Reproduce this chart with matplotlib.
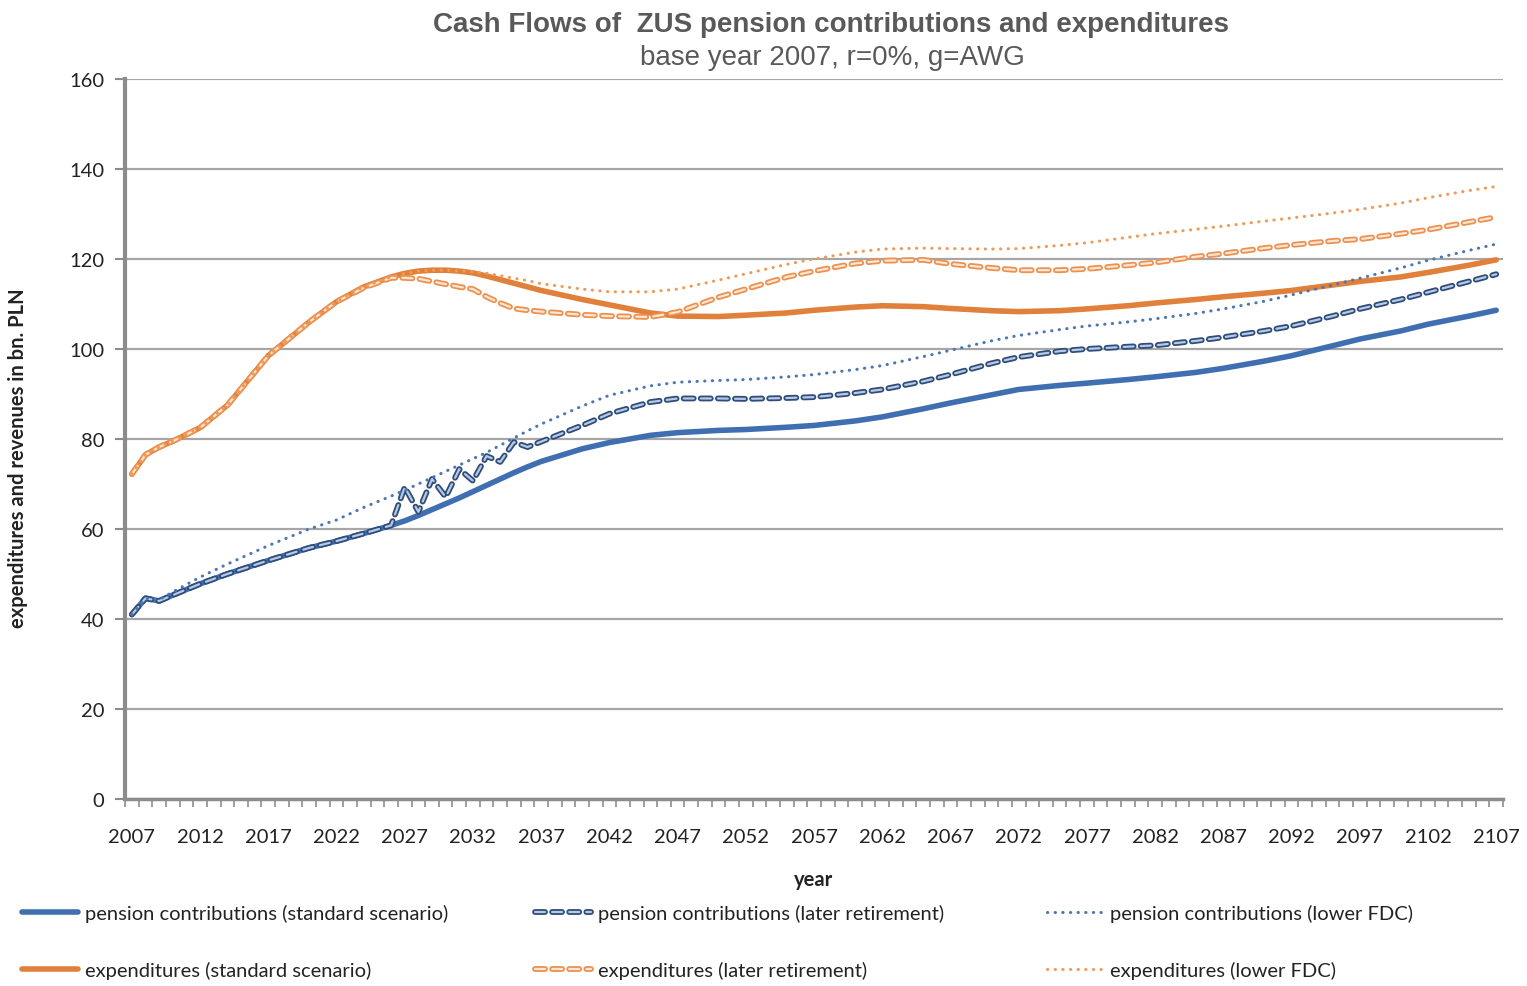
import matplotlib
matplotlib.use("Agg")
import matplotlib.pyplot as plt
import matplotlib.patheffects as pe
import numpy as np

# years sampled from the chart (annual where the lines wiggle)
years = [2007, 2008, 2009, 2010, 2012, 2014, 2017, 2020, 2022, 2024,
         2026, 2027, 2028, 2029, 2030, 2031, 2032, 2033, 2034, 2035,
         2036, 2037, 2040, 2042, 2045, 2047, 2050, 2052, 2055, 2057,
         2060, 2062, 2065, 2067, 2070, 2072, 2075, 2077, 2080, 2082,
         2085, 2087, 2090, 2092, 2095, 2097, 2100, 2102, 2105, 2107]

contrib_std = [41.0, 44.6, 44.0, 45.3, 47.8, 50.0, 53.0, 55.8, 57.3, 59.0,
               60.8, 61.8, 63.0, 64.3, 65.6, 66.9, 68.3, 69.7, 71.1, 72.5,
               73.8, 75.0, 77.8, 79.2, 80.8, 81.4, 81.9, 82.1, 82.6, 83.0,
               84.0, 84.9, 86.7, 88.0, 89.8, 91.0, 91.9, 92.4, 93.2, 93.8,
               94.8, 95.7, 97.3, 98.5, 100.7, 102.2, 104.0, 105.5, 107.3, 108.6]

contrib_later = [41.0, 44.6, 44.0, 45.3, 47.8, 50.0, 53.0, 55.8, 57.3, 59.0,
                 60.8, 69.3, 63.8, 71.1, 67.1, 73.3, 70.7, 76.2, 74.9, 79.3,
                 78.2, 79.4, 83.0, 85.6, 88.2, 89.0, 89.0, 88.9, 89.1, 89.3,
                 90.2, 91.0, 92.8, 94.3, 96.8, 98.2, 99.5, 100.0, 100.5, 100.8,
                 101.8, 102.6, 104.0, 105.1, 107.3, 108.9, 111.0, 112.6, 115.0, 116.6]

contrib_lfdc = [41.0, 44.6, 44.3, 46.0, 49.3, 52.2, 56.3, 60.0, 62.0, 64.8,
                67.3, 68.6, 70.0, 71.4, 72.8, 74.2, 75.6, 77.0, 78.6, 80.2,
                81.8, 83.3, 87.3, 89.7, 91.8, 92.6, 93.0, 93.2, 93.8, 94.3,
                95.4, 96.3, 98.3, 99.7, 101.8, 103.0, 104.3, 105.1, 106.0, 106.7,
                107.9, 108.9, 110.6, 112.0, 114.2, 115.7, 118.0, 119.7, 121.9, 123.3]

exp_std = [72.2, 76.5, 78.2, 79.5, 82.5, 87.5, 98.5, 106.0, 110.5, 113.8,
           116.0, 116.8, 117.3, 117.5, 117.5, 117.3, 116.9, 116.2, 115.4, 114.6,
           113.8, 113.0, 111.0, 109.8, 108.0, 107.3, 107.2, 107.5, 108.0, 108.6,
           109.3, 109.6, 109.4, 109.0, 108.5, 108.3, 108.5, 108.9, 109.6, 110.2,
           111.0, 111.6, 112.4, 113.0, 114.2, 115.0, 116.0, 117.0, 118.6, 119.8]

exp_later = [72.2, 76.5, 78.2, 79.5, 82.5, 87.5, 98.5, 106.0, 110.5, 113.6,
             115.8, 115.8, 115.6, 115.0, 114.4, 113.8, 113.3, 111.6, 110.2, 109.0,
             108.6, 108.3, 107.6, 107.3, 107.1, 108.2, 111.5, 113.3, 116.0, 117.3,
             119.0, 119.6, 119.8, 118.9, 118.0, 117.5, 117.5, 117.8, 118.6, 119.2,
             120.5, 121.2, 122.4, 123.1, 124.0, 124.4, 125.6, 126.5, 128.2, 129.3]

exp_lfdc = [72.2, 76.5, 78.2, 79.5, 82.5, 87.5, 98.5, 106.0, 110.5, 113.8,
            116.0, 116.8, 117.3, 117.5, 117.5, 117.3, 117.2, 116.8, 116.3, 115.7,
            115.2, 114.5, 113.3, 112.7, 112.7, 113.3, 115.3, 116.7, 118.8, 120.0,
            121.5, 122.2, 122.4, 122.3, 122.2, 122.3, 123.0, 123.6, 124.8, 125.6,
            126.6, 127.3, 128.4, 129.1, 130.2, 131.0, 132.4, 133.6, 135.2, 136.1]

label_years = list(range(2007, 2108, 5))

blue = "#3f6fb0"
orange = "#e0803a"

plt.rcParams["font.family"] = ["Lato", "DejaVu Sans"]

fig = plt.figure(figsize=(15.27, 9.87), dpi=100)
ax = fig.add_axes([0.0819, 0.1895, 0.9024, 0.7295])

hollow_blue = [pe.Stroke(linewidth=4.2, foreground="#2e4d7c"), pe.Normal()]
hollow_orange = [pe.Stroke(linewidth=4.2, foreground="#ec9150"), pe.Normal()]

l1, = ax.plot(years, contrib_std, color=blue, lw=4, solid_joinstyle="round",
              solid_capstyle="round", label="pension contributions (standard scenario)")
l4, = ax.plot(years, exp_std, color=orange, lw=4, solid_joinstyle="round",
              solid_capstyle="round", label="expenditures (standard scenario)")
l2, = ax.plot(years, contrib_later, color="#b9c9e2", lw=1.6, dashes=(4.5, 3.2),
              dash_capstyle="round", path_effects=hollow_blue,
              label="pension contributions (later retirement)")
l5, = ax.plot(years, exp_later, color="#fde6d2", lw=1.6, dashes=(4.5, 3.2),
              dash_capstyle="round", path_effects=hollow_orange,
              label="expenditures (later retirement)")
l3, = ax.plot(years, contrib_lfdc, color="#4d76b2", lw=2.2, dashes=(0.1, 2.4),
              dash_capstyle="round", label="pension contributions (lower FDC)")
l6, = ax.plot(years, exp_lfdc, color="#f09a58", lw=2.2, dashes=(0.1, 2.4),
              dash_capstyle="round", label="expenditures (lower FDC)")

ax.set_xlim(2006.5, 2107.5)
ax.set_ylim(0, 160)
ax.set_yticks(np.arange(0, 161, 20))
ax.set_xticks(label_years)
ax.set_xticks(np.arange(2006.5, 2108, 1), minor=True)

ax.yaxis.grid(True, color="#a6a6a6", lw=1.6)
ax.set_axisbelow(True)
for s in ["top", "right"]:
    ax.spines[s].set_visible(False)
ax.spines["left"].set_color("#8c8c8c")
ax.spines["left"].set_linewidth(3)
ax.spines["bottom"].set_color("#8c8c8c")
ax.spines["bottom"].set_linewidth(2.5)

ax.tick_params(axis="y", length=7, width=1.5, color="#8c8c8c", labelsize=14.5,
               labelcolor="#222222", pad=8)
ax.tick_params(axis="x", which="major", length=0, labelsize=14.5,
               labelcolor="#222222", pad=21)
ax.tick_params(axis="x", which="minor", length=6, width=1.2, color="#8c8c8c")

ax.set_ylabel("expenditures and revenues in bn. PLN", fontsize=14.5,
              fontweight="bold", color="#222222")
ax.yaxis.set_label_coords(-0.0705, 0.474)
fig.text(814 / 1527, 1 - 880 / 987, "year", ha="center", va="center",
         fontsize=14.5, fontweight="bold", color="#222222")

fig.text(831 / 1527, 1 - 25 / 987, "Cash Flows of  ZUS pension contributions and expenditures",
         ha="center", va="center", fontsize=20, fontweight="bold",
         color="#595959", family="Liberation Sans")
fig.text(832 / 1527, 1 - 58 / 987, "base year 2007, r=0%, g=AWG",
         ha="center", va="center", fontsize=20, color="#595959",
         family="Liberation Sans")

# three legend columns, two rows each
cols = [(22, [l1, l4]), (535, [l2, l5]), (1047, [l3, l6])]
for x0, hs in cols:
    fig.legend(hs, [h.get_label() for h in hs], loc="upper left",
               bbox_to_anchor=(x0 / 1527, 1 - 905 / 987), frameon=False,
               fontsize=14.5, handlelength=2.8, handletextpad=0.35,
               labelspacing=1.95, borderpad=0, borderaxespad=0,
               labelcolor="#222222")

fig.savefig("out.png", dpi=100)
